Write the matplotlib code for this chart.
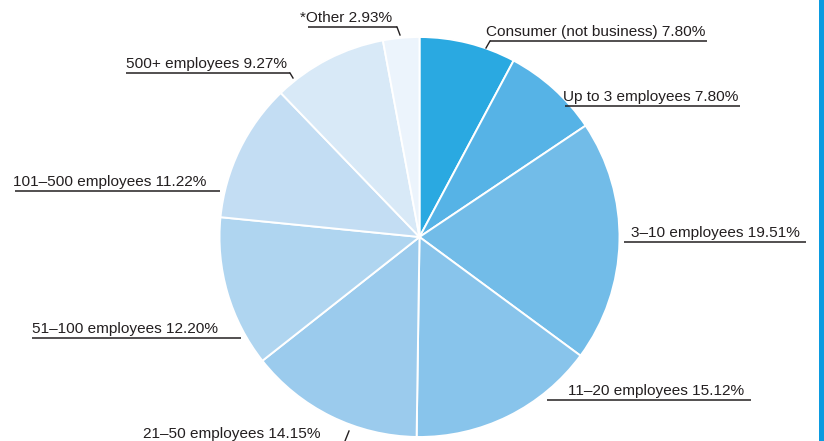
import matplotlib
matplotlib.use("Agg")
import matplotlib.pyplot as plt

# share of respondents by company size
categories = ["Consumer (not business)", "Up to 3 employees", "3\u201310 employees",
              "11\u201320 employees", "21\u201350 employees", "51\u2013100 employees",
              "101\u2013500 employees", "500+ employees", "*Other"]
shares = [7.80, 7.80, 19.51, 15.12, 14.15, 12.20, 11.22, 9.27, 2.93]
colors = ["#2aa9e1", "#56b3e6", "#72bce8", "#88c4eb", "#9bcbed",
          "#afd5f0", "#c3ddf3", "#d8e9f7", "#ecf4fc"]

W, H = 824, 441
fig = plt.figure(figsize=(W / 100, H / 100), dpi=100)
ax = fig.add_axes([0, 0, 1, 1])

# pie in pixel-like coordinates (y measured from the top)
cx, cy, r = 419.5, 237, 200
ax.pie(shares, colors=colors, startangle=90, counterclock=False,
       center=(cx, H - cy), radius=r, frame=True,
       wedgeprops=dict(edgecolor="white", linewidth=1.4))
ax.set_xlim(0, W)
ax.set_ylim(0, H)
ax.set_axis_off()

# label layout: text x, baseline y, underline x0, x1, leader end (or None)
layout = [
    (486, 36, 490, 707, (486, 48)),
    (563, 101, 565, 740, None),
    (631, 237, 624, 806, None),
    (568, 395, 547, 751, None),
    (143, 438, None, None, None),
    (32, 333, 32, 241, None),
    (13, 186, 15, 220, None),
    (126, 68, 126, 290, (293, 78)),
    (300, 22, 308, 397, (400, 35)),
]

ink = "#231f20"
for name, val, (tx, ty, ux0, ux1, lead) in zip(categories, shares, layout):
    ax.text(tx, H - ty, f"{name} {val:.2f}%", fontsize=11.1, family="Liberation Sans",
            color=ink, ha="left", va="baseline")
    if ux0 is not None:
        uy = ty + 5
        ax.plot([ux0, ux1], [H - uy, H - uy], color=ink, lw=1.1, solid_capstyle="butt")
        if lead is not None:
            x_end = ux0 if lead[0] < (ux0 + ux1) / 2 else ux1
            ax.plot([x_end, lead[0]], [H - uy, H - lead[1]], color=ink, lw=1.0)

# leader for the bottom label, its underline falls below the frame
ax.plot([345, 349], [H - 441, H - 431], color=ink, lw=1.0)

# accent strip on the right edge
ax.axvspan(819, W, color="#0b9be0", lw=0)

fig.savefig("out.png", dpi=100)
